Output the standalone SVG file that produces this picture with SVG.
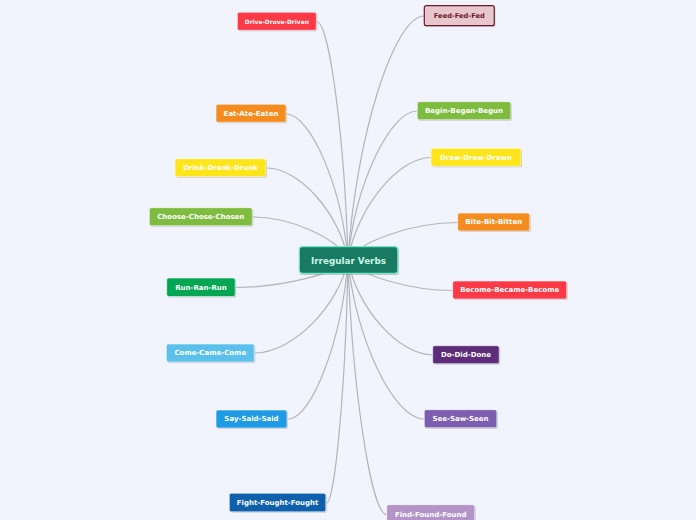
<svg xmlns="http://www.w3.org/2000/svg" width="696" height="520" viewBox="0 0 696 520">
<defs>
<style>
.bg{fill:#f1f4fd}
.ln{fill:none;stroke:#b4b4b8;stroke-width:1.2}
.sh{fill:#8a8f9a;opacity:0.45}
.nd{stroke:#ffffff;stroke-opacity:0.7;stroke-width:0.8}
.t{font-family:"DejaVu Sans",Verdana,sans-serif;font-weight:bold;font-size:7px;fill:#ffffff;text-anchor:middle;dominant-baseline:central}
</style>
</defs>
<rect class="bg" x="0" y="0" width="696" height="520"/>
<g id="connectors">
<path class="ln" d="M348,260 C344.9,141 329.4,22 317,22"/>
<path class="ln" d="M348,260 C341.8,187 310.8,114 286,114"/>
<path class="ln" d="M348,260 C339.9,214 299.4,168 267,168"/>
<path class="ln" d="M348,260 C338.5,238.5 291,217 253,217"/>
<path class="ln" d="M348,260 C336.8,273.8 280.5,287.5 235.5,287.5"/>
<path class="ln" d="M348,260 C338.7,306.5 292.2,353 255,353"/>
<path class="ln" d="M348,260 C342,339.5 312,419 288,419"/>
<path class="ln" d="M348,260 C345.9,381.5 335.1,503 326.5,503"/>
<path class="ln" d="M348,260 C355.6,138 393.8,16 424.3,16"/>
<path class="ln" d="M348,260 C354.9,185.5 389.6,111 417.3,111"/>
<path class="ln" d="M348,260 C356.3,208.8 397.8,157.5 431,157.5"/>
<path class="ln" d="M348,260 C359,241.3 413.8,222.5 457.7,222.5"/>
<path class="ln" d="M348,260 C358.5,275.3 410.8,290.5 452.7,290.5"/>
<path class="ln" d="M348,260 C356.5,307.5 398.8,355 432.7,355"/>
<path class="ln" d="M348,260 C355.6,339.5 393.8,419 424.3,419"/>
<path class="ln" d="M348,260 C351.9,387 371.2,514.5 386.7,514.5"/>
</g>
<g id="central">
<rect class="sh" x="300" y="248" width="99" height="27" rx="3"/>
<rect x="299.3" y="246.7" width="98.5" height="26.6" rx="3" fill="#197a63" stroke="#72e6c2" stroke-width="1.2"/>
<text class="t" x="348.5" y="260.5" style="font-size:8.8px;fill:#c8f5e2">Irregular Verbs</text>
</g>
<g id="drive">
<rect class="sh" x="238.3" y="13.3" width="79" height="18" rx="2"/>
<rect class="nd" x="237.3" y="12.3" width="79" height="18" rx="2" fill="#ff3a47"/>
<text class="t" x="276.8" y="21.5" style="font-size:5.9px">Drive-Drove-Driven</text>
</g>
<g id="feed">
<rect class="sh" x="425.3" y="6.7" width="70" height="20" rx="2"/>
<rect x="424.3" y="5.7" width="70" height="20" rx="2" fill="#e8c6cb" stroke="#6a1a2e" stroke-width="1.2"/>
<text class="t" x="459.3" y="16" style="fill:#6a1a2e;font-size:6.7px">Feed-Fed-Fed</text>
</g>
<g id="eat">
<rect class="sh" x="217" y="105.3" width="70" height="18" rx="2"/>
<rect class="nd" x="216" y="104.3" width="70" height="18" rx="2" fill="#f58c1f"/>
<text class="t" x="251" y="113.5">Eat-Ate-Eaten</text>
</g>
<g id="drink">
<rect class="sh" x="176" y="159.7" width="91" height="18" rx="2"/>
<rect class="nd" x="175" y="158.7" width="91" height="18" rx="2" fill="#ffe519"/>
<text class="t" x="220.5" y="168">Drink-Drank-Drunk</text>
</g>
<g id="choose">
<rect class="sh" x="150.3" y="208.7" width="103" height="18" rx="2"/>
<rect class="nd" x="149.3" y="207.7" width="103" height="18" rx="2" fill="#7ebc3f"/>
<text class="t" x="200.8" y="217">Choose-Chose-Chosen</text>
</g>
<g id="run">
<rect class="sh" x="167.7" y="279" width="68.5" height="18.5" rx="2"/>
<rect class="nd" x="166.7" y="278" width="68.5" height="18.5" rx="2" fill="#00a651"/>
<text class="t" x="201" y="287.5">Run-Ran-Run</text>
</g>
<g id="come">
<rect class="sh" x="167.3" y="345" width="88" height="18" rx="2"/>
<rect class="nd" x="166.3" y="344" width="88" height="18" rx="2" fill="#5bc0eb"/>
<text class="t" x="210.3" y="353">Come-Came-Come</text>
</g>
<g id="say">
<rect class="sh" x="217" y="411" width="71" height="18" rx="2"/>
<rect class="nd" x="216" y="410" width="71" height="18" rx="2" fill="#1f9be6"/>
<text class="t" x="251.5" y="419">Say-Said-Said</text>
</g>
<g id="fight">
<rect class="sh" x="230.3" y="494.3" width="96.5" height="18.5" rx="2"/>
<rect class="nd" x="229.3" y="493.3" width="96.5" height="18.5" rx="2" fill="#0e5fac"/>
<text class="t" x="277.5" y="502.7">Fight-Fought-Fought</text>
</g>
<g id="find">
<rect class="sh" x="387.7" y="505.7" width="88" height="19" rx="2"/>
<rect class="nd" x="386.7" y="504.7" width="88" height="19" rx="2" fill="#b494c8"/>
<text class="t" x="430.7" y="514.5">Find-Found-Found</text>
</g>
<g id="begin">
<rect class="sh" x="418.3" y="102.7" width="93.5" height="18" rx="2"/>
<rect class="nd" x="417.3" y="101.7" width="93.5" height="18" rx="2" fill="#7ebc3f"/>
<text class="t" x="464" y="111">Begin-Began-Begun</text>
</g>
<g id="draw">
<rect class="sh" x="432" y="149.3" width="90" height="18" rx="2"/>
<rect class="nd" x="431" y="148.3" width="90" height="18" rx="2" fill="#ffe519"/>
<text class="t" x="476" y="157.5">Draw-Drew-Drawn</text>
</g>
<g id="bite">
<rect class="sh" x="458.7" y="214" width="72" height="18" rx="2"/>
<rect class="nd" x="457.7" y="213" width="72" height="18" rx="2" fill="#f58c1f"/>
<text class="t" x="493.7" y="222">Bite-Bit-Bitten</text>
</g>
<g id="become">
<rect class="sh" x="453.7" y="282" width="114" height="18" rx="2"/>
<rect class="nd" x="452.7" y="281" width="114" height="18" rx="2" fill="#ff3a47"/>
<text class="t" x="509.7" y="290">Become-Became-Become</text>
</g>
<g id="do">
<rect class="sh" x="433.7" y="346.7" width="66.5" height="18" rx="2"/>
<rect class="nd" x="432.7" y="345.7" width="66.5" height="18" rx="2" fill="#5e2d79"/>
<text class="t" x="466" y="355">Do-Did-Done</text>
</g>
<g id="see">
<rect class="sh" x="425.3" y="410.7" width="72.5" height="18" rx="2"/>
<rect class="nd" x="424.3" y="409.7" width="72.5" height="18" rx="2" fill="#7b5eb0"/>
<text class="t" x="460.5" y="419">See-Saw-Seen</text>
</g>
</svg>
